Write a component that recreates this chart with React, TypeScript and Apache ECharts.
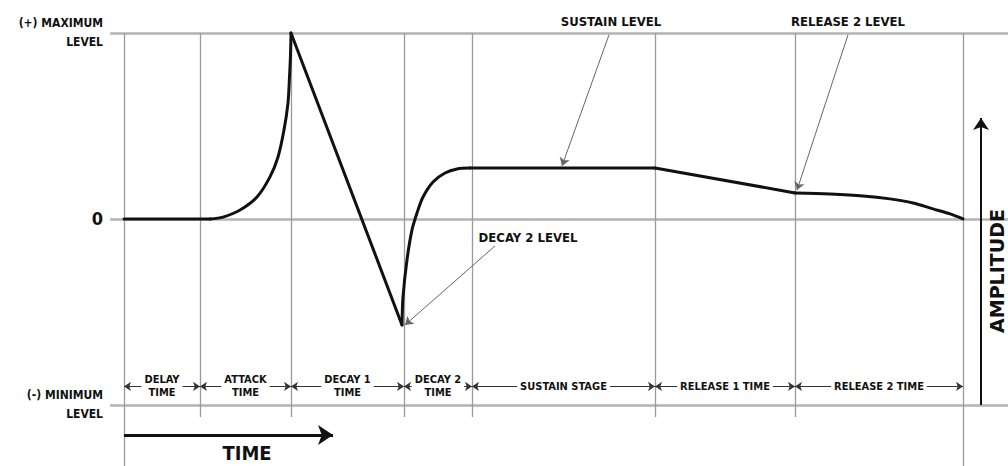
import React, { useEffect, useRef } from "react";
import * as echarts from "echarts";

const FONT = "'Liberation Sans Narrow', 'DejaVu Sans Condensed', 'Roboto Condensed', 'Liberation Sans', sans-serif";

// Stage boundaries along the time axis (time units)
const stageBounds = [0, 76, 167, 280, 348, 531, 671, 839];
const stageNames = [
  "DELAY\nTIME",
  "ATTACK\nTIME",
  "DECAY 1\nTIME",
  "DECAY 2\nTIME",
  "SUSTAIN STAGE",
  "RELEASE 1 TIME",
  "RELEASE 2 TIME",
];

// Level axis labels
const levelValues = [1, 0, -1];
const levelLabels = ["(+) MAXIMUM\nLEVEL", "{z|0}", "(-) MINIMUM\nLEVEL"];

// Envelope curve, segment by segment: [time, level]
const delayCurve = [[0, 0], [86, 0]];
const attackCurve = [[86, 0], [99, 0.01], [116, 0.048], [133, 0.118], [146, 0.226], [154, 0.333], [160, 0.478], [164, 0.624], [165.5, 0.763], [166.5, 0.88], [167, 1]];
const decay1Curve = [[167, 1], [278, -0.57]];
const decay2Curve = [[278, -0.57], [279, -0.42], [283, -0.22], [288, -0.059], [293, 0.032], [299, 0.118], [309, 0.199], [321, 0.247], [333, 0.269], [346, 0.274]];
const sustainCurve = [[346, 0.274], [531, 0.274]];
const release1Curve = [[531, 0.274], [671, 0.14]];
const release2Curve = [[671, 0.14], [706, 0.134], [739, 0.124], [766, 0.108], [789, 0.086], [809, 0.054], [826, 0.027], [839, 0]];

const segments = [
  { data: delayCurve, smooth: false },
  { data: attackCurve, smooth: true },
  { data: decay1Curve, smooth: false },
  { data: decay2Curve, smooth: true },
  { data: sustainCurve, smooth: false },
  { data: release1Curve, smooth: false },
  { data: release2Curve, smooth: true },
];

// Annotations
const annotationTexts = ["SUSTAIN LEVEL", "RELEASE 2 LEVEL", "DECAY 2 LEVEL"];
const annotationTextAt = [[487, 1.06], [724, 1.06], [404, -0.1]];
const annotationArrowFrom = [[485, 0.99], [724, 0.99], [371, -0.145]];
const annotationArrowTo = [[438, 0.285], [673, 0.155], [281, -0.57]];

const dimLevel = -0.9;
const timeArrow = [[0, -1.161], [209, -1.161]];
const timeTextAt = [123, -1.258];
const ampArrow = [[857, -1], [857, 0.543]];
const ampTextAt = [873, -0.28];

const X_MIN = -14;
const X_MAX = 884;
const Y_MIN = -1.328;
const Y_MAX = 1.177;

function textMarks(items: { name: string; coord: number[] }[], label: any) {
  return {
    silent: true,
    symbol: "rect",
    symbolSize: 1,
    itemStyle: { color: "rgba(0,0,0,0)" },
    label: { show: true, position: "inside", formatter: "{b}", color: "#111", fontFamily: FONT, fontWeight: "bold", ...label },
    data: items,
  };
}

export default function App() {
  const ref = useRef<HTMLDivElement>(null);
  useEffect(() => {
    if (!ref.current) return;
    const chart = echarts.init(ref.current, null, { renderer: "svg" });
    const envelopeSeries = segments.map((s, i) => ({
      type: "line",
      name: "env" + i,
      data: s.data,
      smooth: s.smooth ? 0.3 : false,
      symbol: "none",
      silent: true,
      z: 5,
      lineStyle: { color: "#111", width: 3, cap: "round", join: "round" },
    }));

    const option: any = {
      animation: false,
      backgroundColor: "#fff",
      grid: { left: 110, right: 0, top: 0, bottom: 0 },
      xAxis: {
        type: "value",
        min: X_MIN,
        max: X_MAX,
        show: false,
      },
      yAxis: {
        type: "value",
        min: Y_MIN,
        max: Y_MAX,
        axisLine: { show: false },
        axisTick: { show: false },
        splitLine: { show: false },
        axisLabel: {
          customValues: levelValues,
          margin: 7,
          color: "#111",
          fontFamily: FONT,
          fontWeight: "bold",
          fontSize: 12,
          lineHeight: 19,
          align: "right",
          formatter: (v: number) => {
            const idx = levelValues.findIndex((lv) => Math.abs(lv - v) < 1e-6);
            return idx >= 0 ? levelLabels[idx] : "";
          },
          rich: { z: { fontSize: 18, fontWeight: "bold", fontFamily: FONT, color: "#111" } },
        },
      },
      series: [
        {
          type: "line",
          name: "hgrid",
          data: [],
          z: 1,
          markLine: {
            silent: true,
            symbol: "none",
            label: { show: false },
            lineStyle: { color: "#b3b3b3", width: 2.5, type: "solid" },
            data: levelValues.map((v) => ({ yAxis: v })),
          },
        },
        {
          type: "line",
          name: "vgrid",
          data: [],
          z: 1,
          markLine: {
            silent: true,
            symbol: "none",
            label: { show: false },
            lineStyle: { color: "#9a9a9a", width: 1.3, type: "solid" },
            data: stageBounds.map((b, i) => [
              { coord: [b, 1] },
              { coord: [b, i === 0 || i === stageBounds.length - 1 ? Y_MIN : -1.065] },
            ]),
          },
        },
        ...envelopeSeries,
        {
          type: "line",
          name: "dims",
          data: [],
          z: 3,
          markLine: {
            silent: true,
            symbol: ["arrow", "arrow"],
            symbolSize: 7,
            label: { show: false },
            lineStyle: { color: "#333", width: 1, type: "solid" },
            data: stageNames.map((_, i) => [
              { coord: [stageBounds[i], dimLevel] },
              { coord: [stageBounds[i + 1], dimLevel] },
            ]),
          },
          markPoint: textMarks(
            stageNames.map((n, i) => ({ name: n, coord: [(stageBounds[i] + stageBounds[i + 1]) / 2, dimLevel] })),
            { fontSize: 11, lineHeight: 13, backgroundColor: "#fff", padding: [0, 3] }
          ),
        },
        {
          type: "line",
          name: "annot",
          data: [],
          z: 6,
          markLine: {
            silent: true,
            symbol: ["none", "arrow"],
            symbolSize: 8,
            label: { show: false },
            lineStyle: { color: "#666", width: 1, type: "solid" },
            data: annotationTexts.map((_, i) => [
              { coord: annotationArrowFrom[i] },
              { coord: annotationArrowTo[i] },
            ]),
          },
          markPoint: textMarks(
            annotationTexts.map((t, i) => ({ name: t, coord: annotationTextAt[i] })),
            { fontSize: 13 }
          ),
        },
        {
          type: "line",
          name: "timeArrow",
          data: [],
          z: 6,
          markLine: {
            silent: true,
            symbol: ["none", "arrow"],
            symbolSize: 15,
            label: { show: false },
            lineStyle: { color: "#111", width: 3, type: "solid" },
            data: [[{ coord: timeArrow[0] }, { coord: timeArrow[1] }]],
          },
          markPoint: textMarks([{ name: "TIME", coord: timeTextAt }], { fontSize: 20 }),
        },
        {
          type: "line",
          name: "ampArrow",
          data: [],
          z: 6,
          markLine: {
            silent: true,
            symbol: ["none", "arrow"],
            symbolSize: 12,
            label: { show: false },
            lineStyle: { color: "#111", width: 2, type: "solid" },
            data: [[{ coord: ampArrow[0] }, { coord: ampArrow[1] }]],
          },
          markPoint: textMarks([{ name: "AMPLITUDE", coord: ampTextAt }], {
            fontSize: 19,
            rotate: 90,
            fontFamily: "'DejaVu Sans', sans-serif",
          }),
        },
      ],
    };
    chart.setOption(option);
    return () => chart.dispose();
  }, []);
  return <div ref={ref} style={{ position: "absolute", left: 0, top: 0, width: 1008, height: 466 }} />;
}
